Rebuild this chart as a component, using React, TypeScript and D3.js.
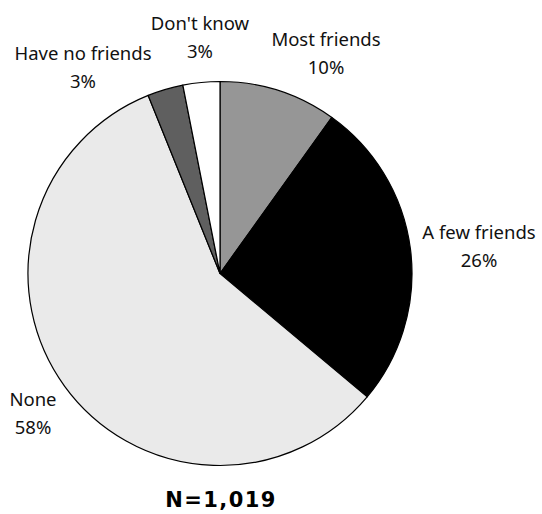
import React from "react";
import * as d3 from "d3";

const categories = ["Most friends", "A few friends", "None", "Have no friends", "Don't know"];
const values = [9.9, 26.2, 57.8, 3.0, 3.1];
const percentLabels = ["10%", "26%", "58%", "3%", "3%"];
const colors = ["#969696", "#000000", "#eaeaea", "#5f5f5f", "#ffffff"];
const sampleNote = "N=1,019";

// label anchor positions (layout only): x center, baseline of first line
const labelPos: [number, number][] = [
  [326, 46],
  [479, 239],
  [33, 406],
  [83, 60],
  [200, 30],
];

export default function App() {
  const width = 542;
  const height = 514;
  const cx = 220;
  const cy = 273.5;
  const r = 192;

  const pie = d3
    .pie<number>()
    .sort(null)
    .startAngle(0)
    .endAngle(2 * Math.PI)
    .value((d) => d);
  const arcs = pie(values);
  const arcGen = d3.arc<d3.PieArcDatum<number>>().innerRadius(0).outerRadius(r);

  const font = "Tahoma, 'Noto Sans', 'DejaVu Sans', sans-serif";

  return (
    <svg
      width={width}
      height={height}
      style={{ position: "absolute", left: 0, top: 0, background: "#fff" }}
    >
      <g transform={`translate(${cx},${cy})`}>
        {arcs.map((a, i) => (
          <path
            key={categories[i]}
            d={arcGen(a) || ""}
            fill={colors[i]}
            stroke="#000"
            strokeWidth={1.2}
            strokeLinejoin="round"
          />
        ))}
      </g>
      {categories.map((c, i) => (
        <text
          key={c}
          x={labelPos[i][0]}
          y={labelPos[i][1]}
          textAnchor="middle"
          fontFamily={font}
          fontSize={18.5}
          fill="#111"
        >
          <tspan x={labelPos[i][0]}>{c}</tspan>
          <tspan x={labelPos[i][0]} dy={27.5}>
            {percentLabels[i]}
          </tspan>
        </text>
      ))}
      <text
        x={221}
        y={507}
        textAnchor="middle"
        fontFamily="'DejaVu Sans', sans-serif"
        fontSize={21}
        fontWeight="bold"
        letterSpacing={1.4}
        fill="#000"
      >
        {sampleNote}
      </text>
    </svg>
  );
}
